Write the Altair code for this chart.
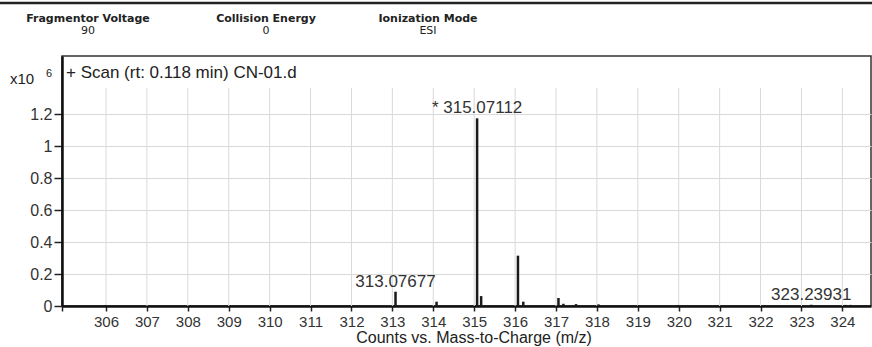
import altair as alt
import pandas as pd

# Mass spectrum peaks (m/z, counts)
mz = [306.00, 313.07677, 314.08, 315.07112, 315.17, 316.07, 316.20, 317.06,
      317.18, 317.49, 318.04, 319.03, 320.00, 323.23931, 324.08, 324.20]
counts = [6000, 89500, 27000, 1175000, 62000, 315000, 27000, 50000,
          14000, 12000, 10000, 6000, 6000, 8000, 7000, 7000]

# Annotated peaks
label_mz = [315.07112, 313.07677, 323.23931]
label_counts = [1175000, 89500, 8000]
label_text = ["* 315.07112", "313.07677", "323.23931"]

# Axis ticks
x_ticks = list(range(306, 325))
y_ticks = [0, 200000, 400000, 600000, 800000, 1000000, 1200000]

# Acquisition header
header_names = ["Fragmentor Voltage", "Collision Energy", "Ionization Mode"]
header_values = ["90", "0", "ESI"]
header_pos = [26, 204, 366]

W, H = 809, 250
X_MIN, X_MAX = 304.924, 324.70
Y_MAX = 1565000
FONT = "Liberation Sans"
INK = "#333333"

peaks = pd.DataFrame({"mz": mz, "counts": counts})
labels = pd.DataFrame({"mz": label_mz, "counts": label_counts, "text": label_text})
grid = pd.DataFrame({"mz": x_ticks})

x_scale = alt.Scale(domain=[X_MIN, X_MAX], nice=False, zero=False)
y_scale = alt.Scale(domain=[0, Y_MAX], nice=False)

x_axis = alt.Axis(
    values=[X_MIN] + x_ticks,
    labelExpr="datum.value < 305 ? '' : datum.value",
    grid=False, domainColor="#111111", domainWidth=2.5,
    tickColor="#222222", tickWidth=1.5, tickSize=5,
    labelFont=FONT, labelFontSize=15, labelColor=INK,
    labelPadding=3, labelBaseline="top", labelOverlap=False, title=None,
)
y_axis = alt.Axis(
    values=y_ticks,
    labelExpr="format(datum.value / 1e6, '~g')",
    grid=True, gridColor="#d9d9d9", gridWidth=1,
    domainColor="#111111", domainWidth=2.5,
    tickColor="#222222", tickWidth=1.5, tickSize=8,
    labelFont=FONT, labelFontSize=16, labelColor=INK, labelPadding=2,
    title=None,
)

# Vertical grid lines stop below the scan caption band
vgrid = alt.Chart(grid).mark_rule(color="#d9d9d9", strokeWidth=1).encode(
    x=alt.X("mz:Q", scale=x_scale, axis=x_axis),
    y=alt.value(32),
    y2=alt.value(H),
)

sticks = alt.Chart(peaks).mark_rule(color="#1a1a1a", strokeWidth=2.5).encode(
    x=alt.X("mz:Q", scale=x_scale),
    y=alt.Y("counts:Q", scale=y_scale, axis=y_axis),
    y2=alt.datum(0),
)

peak_labels = alt.Chart(labels).mark_text(
    font=FONT, fontSize=17, color=INK, baseline="alphabetic", dy=-5
).encode(
    x=alt.X("mz:Q", scale=x_scale),
    y=alt.Y("counts:Q", scale=y_scale),
    text="text:N",
)

def label(text, x, y, size, weight="normal", align="left", font=FONT,
          baseline="alphabetic"):
    return alt.Chart(pd.DataFrame({"t": [text]})).mark_text(
        font=font, fontSize=size, fontWeight=weight, color="#222222",
        align=align, baseline=baseline,
    ).encode(x=alt.value(x), y=alt.value(y), text="t:N")

layers = [vgrid, sticks, peak_labels]

# Header band
for name, value, px in zip(header_names, header_values, header_pos):
    layers.append(label(name, px, -34, 11, "bold", "center", "DejaVu Sans"))
    layers.append(label(value, px, -22, 11, "normal", "center", "DejaVu Sans"))

top_line = alt.Chart(pd.DataFrame({"v": [0]})).mark_rule(
    color="#222222", strokeWidth=2.5
).encode(x=alt.value(-62), x2=alt.value(W + 1), y=alt.value(-53))
layers.append(top_line)

# Scale exponent, scan caption and x-axis title
layers.append(label("x10", -52, 28, 15))
layers.append(label("6", -16, 21, 11))
layers.append(label("+ Scan (rt: 0.118 min) CN-01.d", 4, 22, 17))
layers.append(label("Counts vs. Mass-to-Charge (m/z)", 412, 290, 16,
                    align="center", baseline="bottom"))

chart = alt.layer(*layers).properties(
    width=W, height=H,
    autosize=alt.AutoSizeParams(type="none"),
    padding={"left": 62, "top": 56, "right": 1, "bottom": 41},
    background="white",
).configure_view(stroke="#333333", strokeWidth=1.5)

chart.save("out.html", embed_options={"renderer": "svg", "actions": False})
